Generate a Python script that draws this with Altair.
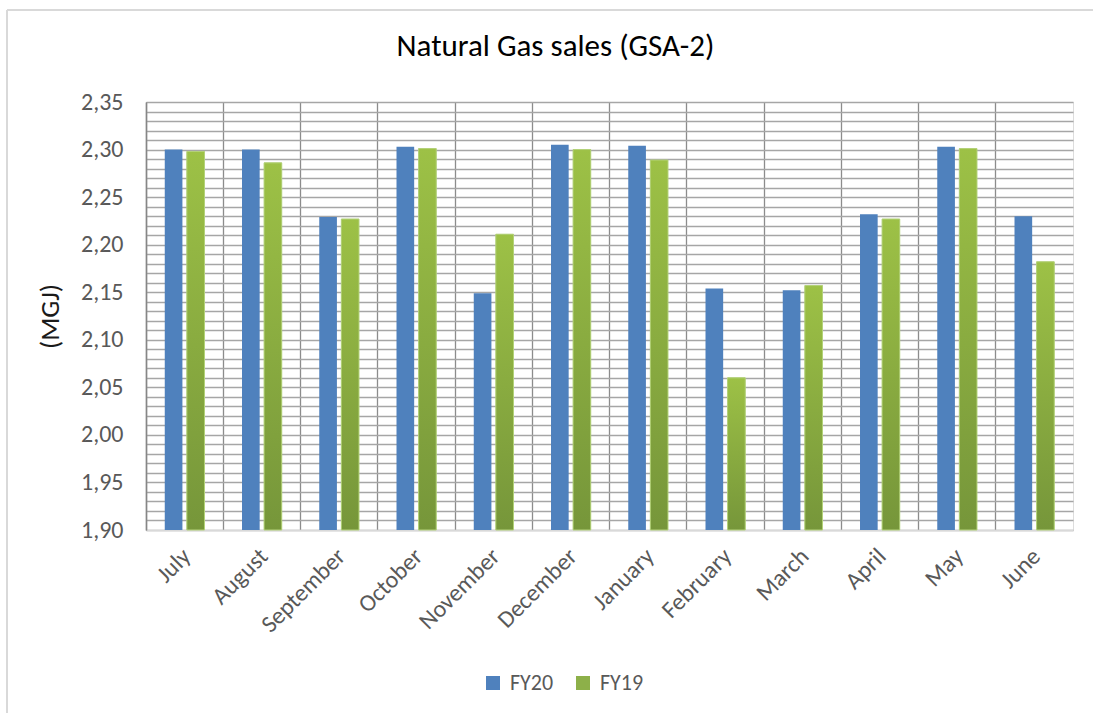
import altair as alt
import pandas as pd

months = ["July", "August", "September", "October", "November", "December",
          "January", "February", "March", "April", "May", "June"]
fy20 = [2.300, 2.300, 2.229, 2.303, 2.149, 2.305, 2.304, 2.154, 2.152, 2.232, 2.303, 2.230]
fy19 = [2.298, 2.286, 2.227, 2.301, 2.211, 2.300, 2.289, 2.060, 2.157, 2.227, 2.301, 2.182]
series = ["FY20", "FY19"]
y_ticks = [round(1.90 + 0.01 * i, 2) for i in range(46)]

rows = []
for m, a, b in zip(months, fy20, fy19):
    rows.append({"month": m, "series": "FY20", "value": a})
    rows.append({"month": m, "series": "FY19", "value": b})
df = pd.DataFrame(rows)

FONT = "Carlito, Lato, sans-serif"

x_enc = alt.X("month:N", sort=months, title=None,
              scale=alt.Scale(paddingInner=0, paddingOuter=0),
              axis=alt.Axis(grid=True, bandPosition=0, gridColor="#8C8C8C", gridWidth=1.3,
                            ticks=False, domainColor="#D9D9D9", domainWidth=1.5,
                            labelAngle=-45, labelFontSize=24, labelColor="#595959",
                            labelFont=FONT, labelPadding=14, labelOffset=-6))
xo_enc = alt.XOffset("series:N", sort=series,
                     scale=alt.Scale(domain=series, paddingInner=0.2, paddingOuter=0.85))
y_enc = alt.Y("value:Q", title="(MGJ)",
              scale=alt.Scale(domain=[1.90, 2.35], nice=False, zero=False),
              axis=alt.Axis(values=y_ticks, grid=True, gridColor="#A6A6A6", gridWidth=1.3,
                            ticks=False, domainColor="#868686", domainWidth=1.5,
                            labelExpr="round(datum.value*100) % 5 == 0 ? replace(format(datum.value, '.2f'), '.', ',') : ''",
                            labelFontSize=24, labelColor="#595959", labelFont=FONT,
                            labelPadding=23, titleFontSize=27, titleFont=FONT,
                            titleFontWeight="normal", titleColor="#1A1A1A", titlePadding=16))

base = alt.Chart(df)

bars = base.mark_bar().encode(
    x=x_enc, xOffset=xo_enc, y=y_enc, y2=alt.datum(1.90),
    color=alt.Color("series:N", sort=series,
                    scale=alt.Scale(domain=series, range=["#4F81BD", "#8DB049"]),
                    legend=alt.Legend(title=None, orient="none", direction="horizontal",
                                      legendX=336, legendY=570, symbolType="square",
                                      symbolSize=196, symbolStrokeWidth=0,
                                      labelFontSize=22, labelColor="#595959", labelFont=FONT,
                                      labelOffset=6, columnPadding=18, padding=0)),
)

green = base.transform_filter(alt.datum.series == "FY19").mark_bar(
    color=alt.Gradient(gradient="linear", x1=0, x2=0, y1=0, y2=1,
                       stops=[alt.GradientStop(offset=0, color="#9DC146"),
                              alt.GradientStop(offset=1, color="#76963A")]),
    stroke="#B4D27A", strokeWidth=1,
).encode(x=x_enc, xOffset=xo_enc, y=y_enc, y2=alt.datum(1.90))

top_border = alt.Chart(df).mark_rule(color="#D9D9D9", strokeWidth=1.5).encode(
    x=alt.value(-139), x2=alt.value(960), y=alt.value(-92))
left_border = alt.Chart(df).mark_rule(color="#D9D9D9", strokeWidth=1.5).encode(
    x=alt.value(-139), y=alt.value(-92), y2=alt.value(620))

chart = alt.layer(top_border, left_border, bars, green).properties(
    width=927, height=428,
    title=alt.TitleParams("Natural Gas sales (GSA-2)", fontSize=31, font=FONT,
                          fontWeight="normal", color="#000000", anchor="middle",
                          frame="group", dx=-54, offset=-54),
    autosize=alt.AutoSizeParams(type="none"),
    padding={"left": 146, "top": 102, "right": 20, "bottom": 183},
).configure_view(stroke="#8C8C8C", strokeWidth=1.3).configure(background="white")

chart.save("out.html", embed_options={"renderer": "svg", "actions": False})
